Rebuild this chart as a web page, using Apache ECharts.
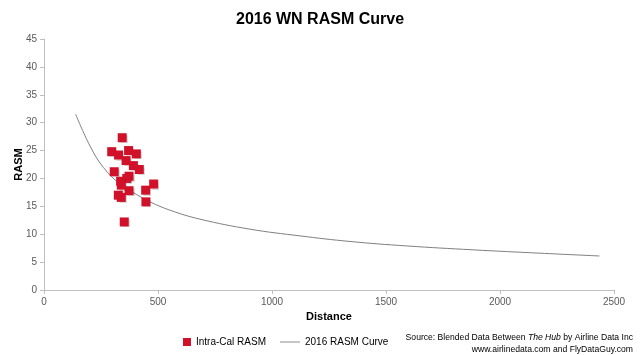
<!DOCTYPE html>
<html><head><meta charset="utf-8">
<script src="https://cdn.jsdelivr.net/npm/echarts@6/dist/echarts.min.js"></script>
<style>html,body{margin:0;padding:0;background:#fff}#c{width:640px;height:355px}</style>
</head><body><div id="c"></div>
<script>
// Scatter: Intra-Cal RASM (distance, RASM)
var scatterDistance = [343, 297, 327, 371, 405, 360, 392, 418, 308, 373, 363, 336, 339, 481, 446, 373, 326, 339, 447, 352];
var scatterRasm     = [27.3, 24.8, 24.2, 25.0, 24.4, 23.2, 22.3, 21.6, 21.2, 20.4, 20.0, 19.5, 18.8, 19.0, 17.9, 17.8, 17.0, 16.6, 15.8, 12.2];
// Curve: 2016 RASM Curve
var curveDistance = [139, 202, 260, 333, 407, 465, 553, 684, 904, 1123, 1342, 1591, 1882, 2175, 2436];
var curveRasm     = [31.5, 25.8, 22.0, 19.0, 17.1, 15.8, 14.3, 12.7, 10.9, 9.7, 8.7, 7.9, 7.2, 6.6, 6.1];
var xTicks = [0, 500, 1000, 1500, 2000, 2500];

var scatterData = scatterDistance.map(function(d,i){return [d, scatterRasm[i]];});
var curveData = curveDistance.map(function(d,i){return [d, curveRasm[i]];});

var font = 'Liberation Sans, Arial, sans-serif';
var chart = echarts.init(document.getElementById('c'));
chart.setOption({
  animation:false,
  backgroundColor:'#fff',
  title:{text:'2016 WN RASM Curve', left:'center', top:7,
    textStyle:{fontFamily:font, fontSize:16, fontWeight:'bold', color:'#000'}},
  grid:{left:44, right:26, top:39, bottom:65, containLabel:false, outerBoundsMode:'none'},
  xAxis:{type:'value', min:xTicks[0], max:xTicks[xTicks.length-1], interval:500,
    name:'Distance', nameLocation:'middle', nameGap:21, nameMoveOverlap:false,
    nameTextStyle:{fontFamily:font, fontSize:11, fontWeight:'bold', color:'#000'},
    axisLine:{lineStyle:{color:'#bfbfbf'}},
    axisTick:{show:true, inside:false, length:4, lineStyle:{color:'#bfbfbf'}},
    axisLabel:{fontFamily:font, fontSize:10, color:'#595959', margin:7,
      formatter:function(v){return String(v);}},
    splitLine:{show:false}},
  yAxis:{type:'value', min:0, max:45, interval:5,
    name:'RASM', nameLocation:'middle', nameGap:20, nameRotate:90, nameMoveOverlap:false,
    nameTextStyle:{fontFamily:font, fontSize:11, fontWeight:'bold', color:'#000'},
    axisLine:{show:true, lineStyle:{color:'#bfbfbf'}},
    axisTick:{show:true, inside:false, length:4, lineStyle:{color:'#bfbfbf'}},
    axisLabel:{fontFamily:font, fontSize:10, color:'#595959', margin:7},
    splitLine:{show:false}},
  legend:[
    {data:[{name:'Intra-Cal RASM', icon:'rect'}], left:178, top:332, itemWidth:8, itemHeight:8, itemGap:6,
      textStyle:{fontFamily:font, fontSize:10, color:'#000'}},
    {data:[{name:'2016 RASM Curve', icon:'rect', itemStyle:{color:'#8c8c8c'}}], left:275, top:332, itemWidth:20, itemHeight:1,
      textStyle:{fontFamily:font, fontSize:10, color:'#000'}}
  ],
  graphic:[
    {type:'text', right:7, top:333, style:{
      text:'Source: Blended Data Between {i|The Hub} by Airline Data Inc',
      rich:{i:{fontStyle:'italic', fontFamily:font, fontSize:8.6, fill:'#000'}},
      font:'8.6px Liberation Sans, Arial, sans-serif', fill:'#000'}},
    {type:'text', right:7, top:345, style:{
      text:'www.airlinedata.com and FlyDataGuy.com',
      font:'8.6px Liberation Sans, Arial, sans-serif', fill:'#000'}}
  ],
  series:[
    {name:'Intra-Cal RASM', type:'scatter', data:scatterData, symbol:'rect', symbolSize:9,
      itemStyle:{color:'#d1102a', opacity:1, shadowColor:'rgba(0,0,0,0.15)', shadowBlur:1, shadowOffsetX:1, shadowOffsetY:1}, z:3},
    {name:'2016 RASM Curve', type:'line', data:curveData, smooth:0.4, showSymbol:false, symbol:'none',
      lineStyle:{color:'#808080', width:1}, itemStyle:{color:'#808080'}, z:2}
  ]
});
</script></body></html>
